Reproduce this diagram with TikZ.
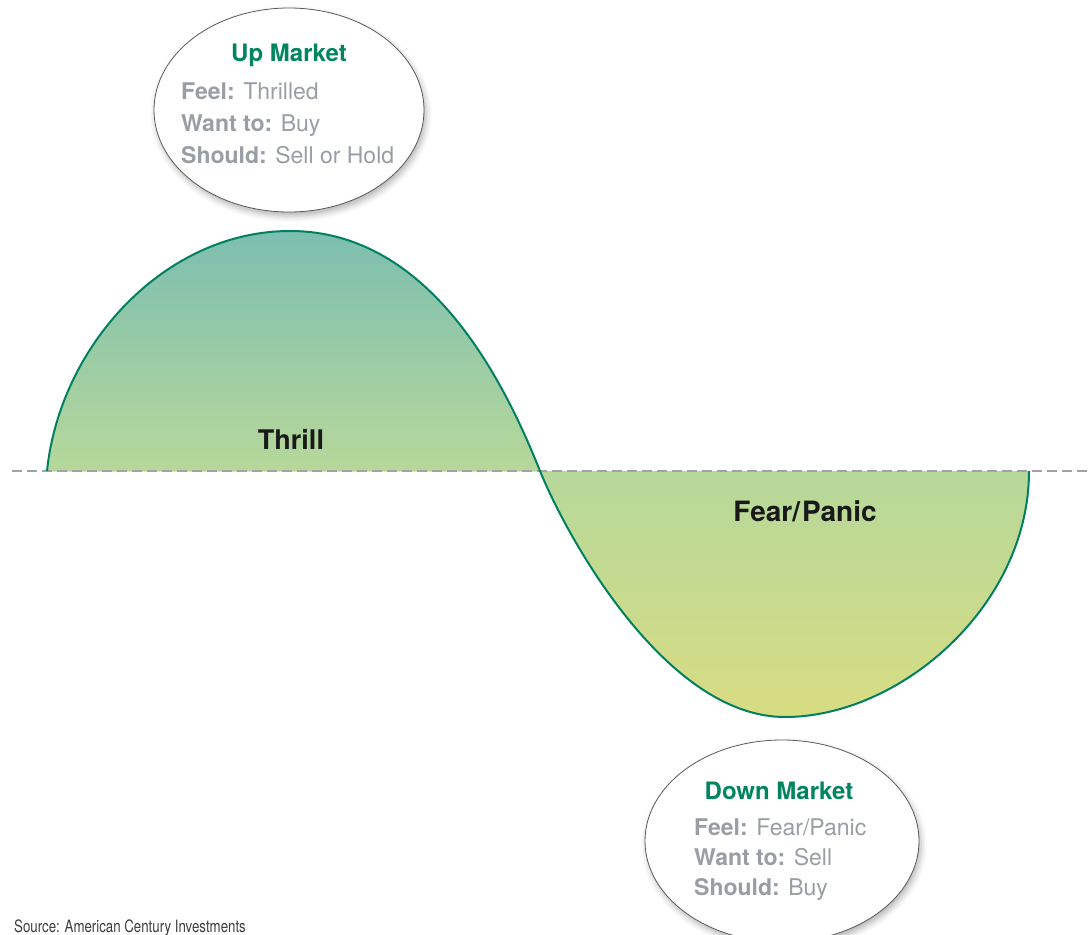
\documentclass[tikz,border=0pt]{standalone}
\usepackage{fontspec}
\setmainfont{TeX Gyre Heros}
\usetikzlibrary{shapes.geometric,shadows.blur}
\definecolor{curvegreen}{RGB}{0,128,96}
\definecolor{titlegreen}{RGB}{0,133,95}
\definecolor{txtgray}{RGB}{152,158,163}
\definecolor{dashgray}{RGB}{158,163,170}
\definecolor{upTop}{RGB}{124,190,176}
\definecolor{upMid}{RGB}{168,207,180}
\definecolor{upBot}{RGB}{182,216,154}
\definecolor{dnTop}{RGB}{182,216,154}
\definecolor{dnMid}{RGB}{202,221,168}
\definecolor{dnBot}{RGB}{216,220,130}
\definecolor{srcgray}{RGB}{60,60,60}
\tikzset{
  bubble/.style={ellipse, draw=black!65, line width=0.8pt, fill=white, inner sep=0pt,
    blur shadow={shadow xshift=2pt, shadow yshift=-4pt, shadow blur radius=6pt, shadow opacity=30}},
  bubbletitle/.style={anchor=base, text=titlegreen, font=\fontsize{24}{28}\selectfont\bfseries, inner sep=0pt},
  bubbleline/.style={anchor=base west, text=txtgray, font=\fontsize{23}{28}\selectfont, inner sep=0pt},
  lobelabel/.style={anchor=base, text=black!90, font=\fontsize{27}{32}\selectfont\bfseries, inner sep=0pt},
  axisline/.style={dashgray, line width=2.6pt, dash pattern=on 10pt off 5pt},
  waveline/.style={curvegreen, line width=2pt}
}
\begin{document}
\begin{tikzpicture}[x=1pt,y=-1pt]
\useasboundingbox (0,0) rectangle (1089,934);
% lobes
\fill[top color=upTop, middle color=upMid, bottom color=upBot]
  (47,471) .. controls (60,345) and (165,231) .. (290,231)
  .. controls (430,231) and (504,381) .. (540,471) -- cycle;
\fill[top color=dnTop, middle color=dnMid, bottom color=dnBot]
  (540,471) .. controls (566,535) and (665,717) .. (785,717)
  .. controls (900,717) and (1029,606) .. (1029,471) -- cycle;
% axis
\coordinate (dl) at (12,471);
\coordinate (dr) at (1089,471);
\draw[axisline] (dl) -- (dr);
% wave
\coordinate (w0) at (47,471);
\coordinate (wpk) at (290,231);
\coordinate (wx) at (540,471);
\coordinate (wtr) at (785,717);
\coordinate (w1) at (1029,471);
\draw[waveline] (w0) .. controls (60,345) and (165,231) .. (wpk)
  .. controls (430,231) and (504,381) .. (wx)
  .. controls (566,535) and (665,717) .. (wtr)
  .. controls (900,717) and (1029,606) .. (w1);
% labels
\node[lobelabel] (thrill) at (291,449) {Thrill};
\node[lobelabel, font=\fontsize{28}{32}\selectfont\bfseries] (fear) at (805,521) {Fear/\kern2pt Panic};
% up bubble
\node[bubble, minimum width=270pt, minimum height=204pt] (up) at (289,110) {};
\node[bubbletitle] (uptitle) at (289,62) {Up Market};
\node[bubbleline] (up1) at (181,99) {\textbf{Feel:} Thrilled};
\node[bubbleline] (up2) at (181,131) {\textbf{Want to:} Buy};
\node[bubbleline] (up3) at (181,163) {\textbf{Should:} Sell or Hold};
% down bubble
\node[bubble, minimum width=274pt, minimum height=202pt] (dn) at (782,841) {};
\node[bubbletitle] (dntitle) at (779,799) {Down Market};
\node[bubbleline] (dn1) at (694,835) {\textbf{Feel:} Fear/Panic};
\node[bubbleline] (dn2) at (694,865) {\textbf{Want to:} Sell};
\node[bubbleline] (dn3) at (694,895) {\textbf{Should:} Buy};
% source
\node[anchor=base west, inner sep=0pt, text=srcgray] (src) at (14,932)
  {\scalebox{0.78}[1]{\fontsize{17}{20}\selectfont Source: American Century Investments}};
\end{tikzpicture}
\end{document}
